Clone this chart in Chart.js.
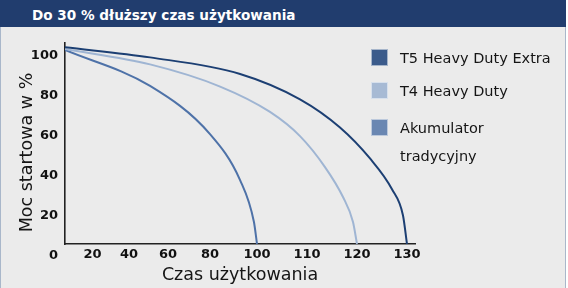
<!DOCTYPE html>
<html>
<head>
<meta charset="utf-8">
<script src="https://cdn.jsdelivr.net/npm/chart.js@4/dist/chart.umd.min.js"></script>
<style>
html,body{margin:0;padding:0;background:#ffffff;width:568px;height:288px;overflow:hidden;}
#panel{position:absolute;left:0;top:0;width:564px;height:288px;background:#ebebeb;border-left:1px solid #a9b7ca;border-right:1px solid #a9b7ca;}
#bar{position:absolute;left:0;top:0;width:566px;height:27px;background:#213d6e;}
#bar span{position:absolute;left:32px;top:2px;line-height:27px;color:#ffffff;font-family:"DejaVu Sans";font-weight:bold;font-size:13.6px;white-space:nowrap;}
#wrap{position:absolute;left:0;top:27px;width:568px;height:261px;}
.sq{position:absolute;width:17px;height:17px;box-sizing:border-box;border:1px solid rgba(255,255,255,0.55);}
.lt{position:absolute;left:400px;font-family:"DejaVu Sans";font-size:14.5px;line-height:28px;color:#151515;white-space:pre;}
</style>
</head>
<body>
<div id="panel"></div>
<div id="bar"><span>Do 30 % dłuższy czas użytkowania</span></div>
<div id="wrap"><canvas id="c" width="568" height="261"></canvas></div>
<div id="legend"></div>
<script>
// ---- data ----
const seriesNames = ['T5 Heavy Duty Extra', 'T4 Heavy Duty', 'Akumulator\ntradycyjny'];

const t5Time  = [0, 50.8, 92.8, 108.6, 116.6, 122.6, 127.0, 129.2, 130];
const t5Power = [104.2, 99.1, 90.8, 78.1, 64.0, 48.5, 33.1, 20.0, 5.7];

const t4Time  = [0, 50.8, 84.3, 102.6, 108.6, 113.6, 117.2, 119.2, 120];
const t4Power = [103.3, 95.6, 84.5, 71.8, 59.7, 44.2, 29.2, 16.7, 5.7];

const akuTime  = [0, 50.8, 80.0, 92.8, 98.7, 100];
const akuPower = [102.8, 84.8, 60.7, 37.7, 16.7, 5.7];

const xTickLabels = [20, 40, 60, 80, 100, 110, 120, 130];
const yTickLabels = [0, 20, 40, 60, 80, 100];

// printed axis is not uniform: label value -> relative axis span
const xAxisBreaksTime = [0, 20, 40, 60, 80, 100, 110, 120, 130, 140];
const xAxisBreaksSpan = [0, 27.5, 64, 103, 145, 192, 242, 292, 342, 392];

const lineColors   = ['#1c3f73', '#9fb5d3', '#4e72a8'];
const legendColors = ['#3b5b8b', '#a7bad4', '#6a87b2'];

const xTitle = 'Czas użytkowania';
const yTitle = 'Moc startowa w %';

// ---- warped linear scale ----
function interp(v, xs, ys) {
  if (v <= xs[0]) return ys[0] + (v - xs[0]) * (ys[1] - ys[0]) / (xs[1] - xs[0]);
  for (let i = 1; i < xs.length; i++) {
    if (v <= xs[i]) return ys[i-1] + (v - xs[i-1]) * (ys[i] - ys[i-1]) / (xs[i] - xs[i-1]);
  }
  const n = xs.length - 1;
  return ys[n] + (v - xs[n]) * (ys[n] - ys[n-1]) / (xs[n] - xs[n-1]);
}
const warp = t => interp(t, xAxisBreaksTime, xAxisBreaksSpan);
const unwarp = u => interp(u, xAxisBreaksSpan, xAxisBreaksTime);

class WarpedScale extends Chart.LinearScale {
  getPixelForValue(v) { return super.getPixelForValue(warp(v)); }
  getValueForPixel(p) { return unwarp(super.getValueForPixel(p)); }
}
WarpedScale.id = 'warped';
WarpedScale.defaults = Chart.LinearScale.defaults;
Chart.register(WarpedScale);

const pts = (xs, ys) => xs.map((x, i) => ({x: x, y: ys[i]}));

const yTitlePlugin = {
  id: 'yTitle',
  afterDraw(chart) {
    const ctx = chart.ctx, a = chart.chartArea;
    ctx.save();
    ctx.translate(a.left - 33.3, (a.top + a.bottom) / 2 + 9);
    ctx.rotate(-Math.PI / 2);
    ctx.font = '17.5px "DejaVu Sans"';
    ctx.fillStyle = '#151515';
    ctx.textAlign = 'center';
    ctx.textBaseline = 'alphabetic';
    ctx.fillText(yTitle, 0, 0);
    ctx.restore();
  }
};

const tickFont = {family: 'DejaVu Sans', weight: 'bold', size: 13};

new Chart(document.getElementById('c'), {
  type: 'line',
  data: {
    datasets: [
      {label: seriesNames[0], data: pts(t5Time, t5Power), borderColor: lineColors[0]},
      {label: seriesNames[1], data: pts(t4Time, t4Power), borderColor: lineColors[1]},
      {label: seriesNames[2], data: pts(akuTime, akuPower), borderColor: lineColors[2]}
    ]
  },
  options: {
    responsive: false,
    animation: false,
    layout: {padding: {top: 16, right: 153, left: 0, bottom: 0}},
    plugins: {legend: {display: false}, tooltip: {enabled: false}},
    elements: {
      point: {radius: 0},
      line: {borderWidth: 2, cubicInterpolationMode: 'monotone', fill: false}
    },
    scales: {
      x: {
        type: 'warped',
        min: 0, max: 350,
        bounds: 'data',
        grid: {display: false, drawTicks: false},
        border: {display: true, color: '#222222', width: 1.6},
        afterBuildTicks: s => { s.ticks = xTickLabels.map(v => ({value: v})); },
        afterFit: s => { s.height = 44; },
        ticks: {autoSkip: false, maxRotation: 0, minRotation: 0, padding: 3, color: '#111111', font: tickFont,
                callback: v => String(v)},
        title: {display: true, text: xTitle, color: '#151515', font: {family: 'DejaVu Sans', size: 17.5},
                padding: {top: 0, bottom: 2.5}}
      },
      y: {
        type: 'linear',
        min: 5.7, max: 106.3,
        bounds: 'data',
        grid: {display: false, drawTicks: false},
        border: {display: true, color: '#222222', width: 1.6},
        afterBuildTicks: s => { s.ticks = yTickLabels.map(v => ({value: v})); },
        afterFit: s => { s.width = 65; },
        ticks: {autoSkip: false, padding: 7, color: '#111111', font: tickFont, callback: v => String(v)}
      }
    }
  },
  plugins: [yTitlePlugin]
});

// ---- legend (HTML, from the series arrays) ----
const legendSquareTops = [49, 82, 119];
const legend = document.getElementById('legend');
seriesNames.forEach((name, i) => {
  const sq = document.createElement('div');
  sq.className = 'sq';
  sq.style.left = '371px';
  sq.style.top = legendSquareTops[i] + 'px';
  sq.style.background = legendColors[i];
  legend.appendChild(sq);
  const tx = document.createElement('div');
  tx.className = 'lt';
  tx.style.top = (legendSquareTops[i] + 8.5 - 14) + 'px';
  tx.textContent = name;
  legend.appendChild(tx);
});
</script>
</body>
</html>
